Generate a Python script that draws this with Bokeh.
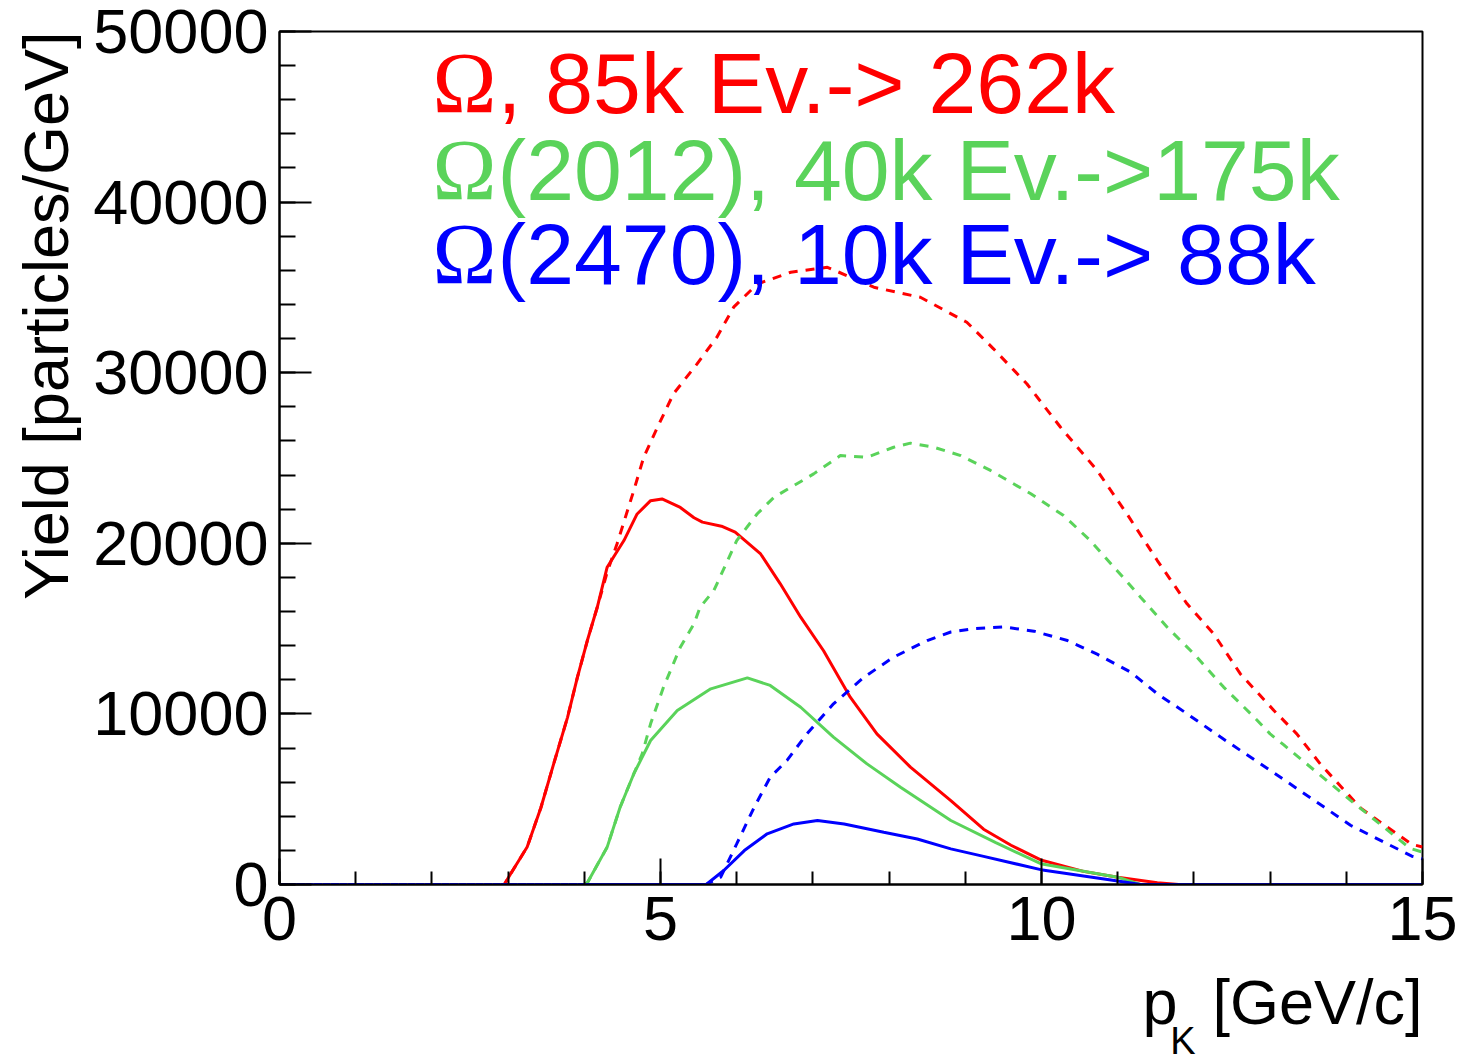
from bokeh.plotting import figure
from bokeh.models import Range1d, SingleIntervalTicker, Label, NumeralTickFormatter, Title
from bokeh.embed import file_html
from bokeh.resources import INLINE

# ---- data ----
red_solid_x = [0, 2.95, 3.03, 3.25, 3.43, 3.6, 3.78, 3.91, 4.04, 4.17, 4.3, 4.52, 4.69, 4.87, 5.02, 5.26, 5.44, 5.55, 5.8, 5.98, 6.31, 6.57, 6.84, 7.14, 7.49, 7.84, 8.28, 8.81, 9.24, 9.6, 9.99, 10.55, 11.0, 11.52, 11.8, 15]
red_solid_y = [0, 0, 600, 2200, 4500, 7100, 9800, 12150, 14300, 16250, 18600, 20160, 21700, 22500, 22600, 22100, 21500, 21240, 21000, 20650, 19400, 17640, 15670, 13700, 10980, 8830, 6880, 4920, 3240, 2300, 1440, 770, 430, 100, 0, 0]

red_dash_x = [0, 2.95, 3.03, 3.25, 3.43, 3.6, 3.78, 3.91, 4.04, 4.17, 4.3, 4.43, 4.65, 4.78, 4.96, 5.17, 5.48, 5.74, 5.96, 6.27, 6.71, 7.19, 7.8, 8.41, 9.02, 9.37, 9.81, 10.25, 10.73, 11.12, 11.52, 11.91, 12.26, 12.61, 13.05, 13.35, 13.66, 14.19, 14.86, 15]
red_dash_y = [0, 0, 600, 2200, 4500, 7100, 9800, 12150, 14300, 16250, 18300, 19970, 23100, 25050, 26800, 28760, 30520, 32080, 33840, 35200, 35890, 36180, 35010, 34420, 32960, 31400, 29340, 26800, 24270, 21730, 18990, 16450, 14690, 12345, 10200, 8830, 7060, 4470, 2350, 2200]

green_solid_x = [0, 4.0, 4.04, 4.3, 4.47, 4.65, 4.87, 5.22, 5.66, 6.14, 6.44, 6.84, 7.27, 7.71, 8.15, 8.81, 9.4, 9.99, 11.0, 11.3, 15]
green_solid_y = [0, 0, 100, 2190, 4530, 6490, 8440, 10200, 11470, 12110, 11670, 10390, 8640, 7070, 5700, 3750, 2450, 1220, 430, 0, 0]

green_dash_x = [0, 4.0, 4.04, 4.3, 4.47, 4.65, 4.76, 4.87, 5.04, 5.26, 5.44, 5.52, 5.70, 6.0, 6.27, 6.49, 7.01, 7.36, 7.71, 8.06, 8.28, 8.59, 8.94, 9.33, 9.86, 10.29, 10.64, 10.99, 11.3, 11.65, 12.0, 12.39, 12.79, 13.0, 13.18, 14.06, 14.84, 15]
green_dash_y = [0, 0, 100, 2190, 4530, 6490, 7660, 9420, 11570, 13910, 15280, 16260, 17230, 20160, 21730, 22700, 24070, 25140, 25040, 25630, 25870, 25630, 25140, 24270, 22900, 21630, 20160, 18410, 16840, 15080, 13520, 11570, 9810, 8830, 8180, 4920, 2110, 1900]

blue_solid_x = [0, 5.6, 5.83, 6.1, 6.4, 6.75, 7.06, 7.41, 7.93, 8.37, 8.81, 9.24, 9.99, 11.0, 11.3, 15]
blue_solid_y = [0, 0, 820, 1990, 2970, 3550, 3750, 3550, 3060, 2670, 2090, 1650, 870, 200, 0, 0]

blue_dash_x = [0, 5.6, 5.79, 6.0, 6.23, 6.44, 6.66, 6.92, 7.27, 7.67, 8.06, 8.5, 8.81, 9.11, 9.5, 9.9, 10.34, 10.73, 11.17, 11.52, 11.91, 12.35, 13.18, 14.06, 14.86, 15]
blue_dash_y = [0, 0, 430, 2380, 4530, 6290, 7270, 8830, 10590, 12150, 13330, 14300, 14800, 15000, 15100, 14850, 14300, 13500, 12450, 11180, 10010, 8640, 6150, 3460, 1660, 1500]

legend_symbol = "Ω"
legend_texts = [", 85k Ev.-> 262k", "(2012), 40k Ev.->175k", "(2470), 10k Ev.-> 88k"]
legend_colors = ["#FF0000", "#5AD35A", "#0000FF"]

x_title_main = "p\u00a0\u00a0[GeV/c]"
x_title_sub = "K"
y_title = "Yield [particles/GeV]"

RED, GREEN, BLUE = legend_colors
FONT = "Liberation Sans"

p = figure(width=1460, height=1059, output_backend="svg", toolbar_location=None,
           x_range=Range1d(0, 15), y_range=Range1d(0, 50000),
           min_border_left=279, min_border_right=38, min_border_top=31, min_border_bottom=175)
p.background_fill_color = "white"
p.border_fill_color = "white"
p.xgrid.visible = False
p.ygrid.visible = False
p.outline_line_color = "black"
p.outline_line_width = 2

p.xaxis.ticker = SingleIntervalTicker(interval=5, num_minor_ticks=5)
p.yaxis.ticker = SingleIntervalTicker(interval=10000, num_minor_ticks=5)
p.yaxis.formatter = NumeralTickFormatter(format="0")
for ax in (p.xaxis, p.yaxis):
    ax.axis_line_color = "black"
    ax.axis_line_width = 2
    ax.major_tick_line_color = "black"
    ax.minor_tick_line_color = "black"
    ax.major_tick_line_width = 2
    ax.minor_tick_line_width = 2
    ax.major_tick_out = 0
    ax.minor_tick_out = 0
    ax.major_label_text_font = FONT
    ax.major_label_text_font_size = "63px"
    ax.major_label_text_color = "black"
p.xaxis.major_tick_in = 26
p.xaxis.minor_tick_in = 13
p.yaxis.major_tick_in = 32
p.yaxis.minor_tick_in = 16
p.xaxis.major_label_standoff = 12
p.yaxis.major_label_standoff = 11

lw = 3
dash = "9 8"
p.line(red_solid_x, red_solid_y, line_color=RED, line_width=lw)
p.line(green_solid_x, green_solid_y, line_color=GREEN, line_width=lw)
p.line(blue_solid_x, blue_solid_y, line_color=BLUE, line_width=lw)
p.line(red_dash_x, red_dash_y, line_color=RED, line_width=lw, line_dash=dash)
p.line(green_dash_x, green_dash_y, line_color=GREEN, line_width=lw, line_dash=dash)
p.line(blue_dash_x, blue_dash_y, line_color=BLUE, line_width=lw, line_dash=dash)

# legend-like texts
legend_y = [46952, 41853, 36987]
for txt, col, yy in zip(legend_texts, legend_colors, legend_y):
    p.add_layout(Label(x=2.008, y=yy, text=legend_symbol, text_font="Liberation Serif",
                       text_font_size="86px", text_color=col, text_baseline="alphabetic"))
    p.add_layout(Label(x=2.861, y=yy, text=txt, text_font=FONT,
                       text_font_size="86px", text_color=col, text_baseline="alphabetic"))

# axis titles
p.add_layout(Title(text=y_title, align="right", vertical_align="top", standoff=16,
                   text_font=FONT, text_font_size="63px", text_font_style="normal",
                   text_color="black"), "left")
p.add_layout(Title(text=x_title_main, align="right", standoff=44,
                   text_font=FONT, text_font_size="63px", text_font_style="normal",
                   text_color="black"), "below")
p.add_layout(Title(text=x_title_sub, align="right", vertical_align="top", standoff=-78, offset=227,
                   text_font=FONT, text_font_size="38px", text_font_style="normal",
                   text_color="black"), "below")

open("out.html", "w").write(file_html(p, INLINE))
